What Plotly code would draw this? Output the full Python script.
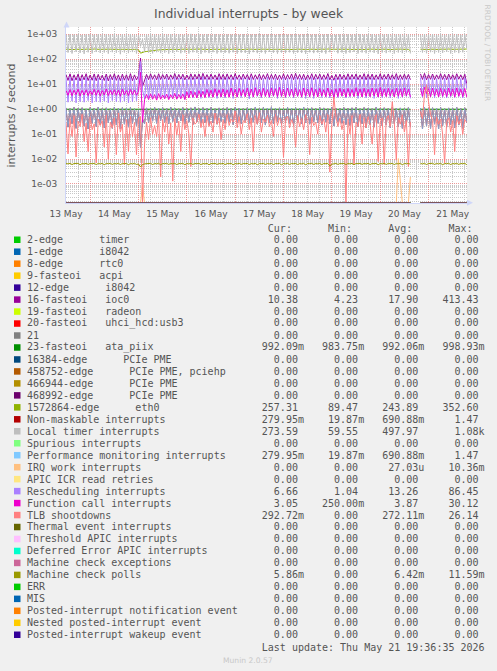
import plotly.graph_objects as go
import pandas as pd

# ---------------- data (hourly samples from 13 May 12:00) ----------------
START = "2026-05-13 12:00"
END = "2026-05-21 19:06"
N_POINTS = 200
DAY_TICKS = ["2026-05-13 12:00", "2026-05-14 12:00", "2026-05-15 12:00", "2026-05-16 12:00",
             "2026-05-17 12:00", "2026-05-18 12:00", "2026-05-19 12:00", "2026-05-20 12:00",
             "2026-05-21 12:00"]
DAY_LABELS = ["13 May", "14 May", "15 May", "16 May", "17 May", "18 May", "19 May", "20 May", "21 May"]
Y_TICKS = [1e-3, 1e-2, 1e-1, 1e0, 1e1, 1e2, 1e3]
Y_LABELS = ["1e-03", "1e-02", "1e-01", "1e+00", "1e+01", "1e+02", "1e+03"]

ioc0 = [
    24.5, 14.2, 26.0, 13.8, 23.8, 14.6, 25.4, 13.5, 24.1, 14.9,
    26.3, 14.0, 23.5, 14.4, 25.8, 13.9, 24.7, 14.7, 22.9, 14.1,
    25.6, 13.6, 24.2, 15.0, 26.1, 14.3, 23.7, 13.8, 25.2, 14.5,
    24.0, 14.2, 26.4, 13.9, 23.6, 14.8, 22.0, 110.0, 8.0, 13.4,
    24.8, 15.2, 25.9, 15.6, 23.9, 15.0, 26.2, 15.4, 24.4, 15.9,
    25.5, 15.1, 23.8, 15.7, 26.6, 15.3, 24.6, 15.8, 25.1, 15.0,
    23.4, 15.5, 26.0, 15.2, 24.9, 15.9, 25.7, 15.1, 27.0, 15.6,
    24.2, 15.3, 25.4, 15.8, 23.6, 15.0, 26.4, 15.5, 24.8, 15.2,
    25.9, 15.7, 24.0, 15.1, 26.8, 15.6, 23.7, 15.3, 25.3, 15.9,
    24.5, 15.0, 26.2, 15.4, 23.9, 15.7, 25.6, 15.2, 24.1, 15.8,
    26.5, 15.3, 24.7, 15.6, 25.2, 15.0, 23.5, 15.5, 26.0, 15.1,
    24.3, 15.9, 25.8, 15.2, 27.2, 15.7, 24.6, 15.4, 25.0, 15.0,
    23.8, 15.6, 26.3, 15.1, 24.9, 15.8, 25.5, 15.3, 24.0, 15.5,
    26.7, 15.0, 22.5, 14.5, 24.8, 15.2, 25.3, 15.6, 23.9, 15.1,
    26.1, 15.4, 24.4, 15.9, 25.7, 15.2, 23.6, 15.7, 26.4, 15.0,
    24.9, 15.5, 25.4, 15.1, 23.8, 15.6, 26.0, 15.3, 24.5, 15.8,
    25.8, 15.2, 24.1, 15.7, 26.5, 15.0, 23.9, 15.4, 25.2, 15.6,
    24.6, 15.1, None, None, None, None, 25.9, 15.5, 27.1, 15.0,
    24.3, 15.7, 25.6, 15.2, 23.7, 15.9, 26.2, 15.4, 24.8, 15.1,
    25.5, 15.6, 24.0, 15.3, 26.3, 15.8, 23.8, 15.2, 25.1, 10.38,
]

ata_piix = [
    0.992, 0.991, 0.993, 0.992, 0.990, 0.992, 0.993, 0.991, 0.992, 0.992,
    0.991, 0.993, 0.992, 0.990, 0.992, 0.993, 0.991, 0.992, 0.992, 0.991,
    0.993, 0.992, 0.990, 0.992, 0.993, 0.991, 0.992, 0.992, 0.991, 0.993,
    0.992, 0.990, 0.992, 0.993, 0.991, 0.992, 0.988, 0.984, 0.990, 0.992,
    0.991, 0.993, 0.992, 0.990, 0.992, 0.993, 0.991, 0.992, 0.992, 0.991,
    0.993, 0.992, 0.990, 0.992, 0.993, 0.991, 0.992, 0.992, 0.991, 0.993,
    0.992, 0.990, 0.992, 0.993, 0.991, 0.992, 0.992, 0.991, 0.993, 0.992,
    0.990, 0.992, 0.993, 0.991, 0.992, 0.992, 0.991, 0.993, 0.992, 0.990,
    0.992, 0.993, 0.991, 0.992, 0.992, 0.991, 0.993, 0.992, 0.990, 0.992,
    0.993, 0.991, 0.992, 0.992, 0.991, 0.993, 0.992, 0.990, 0.992, 0.993,
    0.991, 0.992, 0.992, 0.991, 0.993, 0.992, 0.990, 0.992, 0.993, 0.991,
    0.992, 0.992, 0.991, 0.993, 0.992, 0.990, 0.992, 0.993, 0.991, 0.992,
    0.992, 0.991, 0.993, 0.992, 0.990, 0.992, 0.993, 0.991, 0.992, 0.992,
    0.991, 0.993, 0.992, 0.990, 0.992, 0.993, 0.991, 0.992, 0.992, 0.991,
    0.993, 0.992, 0.990, 0.992, 0.993, 0.991, 0.992, 0.992, 0.991, 0.993,
    0.992, 0.990, 0.992, 0.993, 0.991, 0.992, 0.992, 0.991, 0.993, 0.992,
    0.990, 0.992, 0.993, 0.991, 0.992, 0.992, 0.991, 0.993, 0.992, 0.990,
    0.992, 0.993, None, None, None, None, 0.991, 0.992, 0.992, 0.991,
    0.993, 0.992, 0.990, 0.992, 0.993, 0.991, 0.992, 0.992, 0.991, 0.993,
    0.992, 0.990, 0.992, 0.993, 0.991, 0.992, 0.992, 0.991, 0.993, 0.992,
]

eth0 = [
    252, 248, 255, 250, 246, 253, 249, 256, 251, 247,
    254, 250, 245, 252, 257, 249, 253, 248, 251, 255,
    250, 246, 253, 249, 256, 252, 247, 254, 250, 248,
    255, 251, 246, 253, 249, 245, 238, 175, 190, 200,
    205, 212, 218, 224, 229, 233, 238, 241, 244, 247,
    250, 253, 248, 255, 251, 246, 254, 249, 252, 256,
    248, 253, 250, 245, 252, 257, 249, 254, 251, 247,
    255, 250, 246, 253, 249, 256, 252, 248, 254, 250,
    246, 253, 249, 255, 251, 247, 254, 250, 245, 252,
    257, 249, 253, 248, 251, 255, 250, 246, 253, 249,
    256, 252, 247, 254, 250, 248, 255, 251, 246, 253,
    249, 245, 252, 257, 249, 254, 251, 247, 255, 250,
    246, 253, 249, 256, 252, 248, 254, 250, 245, 252,
    257, 249, 253, 248, 251, 255, 250, 246, 253, 249,
    256, 252, 247, 254, 250, 248, 255, 251, 246, 253,
    249, 256, 252, 247, 254, 250, 248, 255, 251, 246,
    253, 249, 245, 252, 257, 249, 254, 251, 247, 255,
    250, 215, None, None, None, None, 252, 248, 254, 250,
    246, 253, 249, 255, 251, 247, 254, 250, 245, 252,
    257, 249, 253, 248, 251, 255, 250, 246, 253, 257,
]

perf_mon = [
    1.12, 0.19, 1.05, 0.26, 1.18, 0.17, 1.08, 0.29, 1.14, 0.21,
    1.02, 0.16, 1.16, 0.27, 1.09, 0.20, 1.21, 0.24, 1.06, 0.18,
    1.13, 0.28, 1.04, 0.17, 1.19, 0.23, 1.07, 0.16, 1.15, 0.25,
    1.10, 0.19, 1.17, 0.27, 1.03, 0.21, 0.95, 0.028, 0.40, 0.26,
    1.12, 0.29, 1.05, 0.33, 1.18, 0.27, 1.09, 0.35, 1.14, 0.30,
    1.07, 0.26, 1.20, 0.32, 1.11, 0.28, 1.04, 0.34, 1.16, 0.25,
    1.09, 0.30, 1.13, 0.24, 1.22, 0.31, 1.06, 0.27, 1.15, 0.29,
    1.10, 0.23, 1.18, 0.28, 1.04, 0.25, 1.12, 0.32, 1.08, 0.27,
    1.16, 0.30, 1.07, 0.24, 1.19, 0.29, 1.11, 0.26, 1.05, 0.31,
    1.14, 0.27, 1.09, 0.30, 1.21, 0.25, 1.06, 0.28, 1.17, 0.23,
    1.11, 0.29, 1.24, 0.26, 1.08, 0.31, 1.13, 0.24, 1.05, 0.30,
    1.18, 0.27, 1.10, 0.22, 1.15, 0.30, 1.07, 0.26, 1.20, 0.29,
    1.09, 0.25, 1.14, 0.31, 1.06, 0.28, 1.17, 0.23, 1.12, 0.30,
    1.04, 0.26, 1.19, 0.21, 1.10, 0.30, 1.08, 0.27, 1.15, 0.24,
    1.07, 0.22, 1.13, 0.28, 1.18, 0.20, 1.05, 0.26, 1.16, 0.18,
    1.10, 0.24, 1.04, 0.19, 1.20, 0.27, 1.08, 0.21, 1.14, 0.23,
    1.06, 0.18, 1.17, 0.26, 1.09, 0.20, 1.12, 0.17, 1.05, 0.25,
    1.15, 0.19, None, None, None, None, 1.11, 0.16, 1.19, 0.21,
    1.07, 0.17, 1.14, 0.25, 1.09, 0.16, 1.16, 0.22, 1.04, 0.19,
    1.12, 0.24, 1.08, 0.18, 1.18, 0.23, 1.06, 0.17, 1.13, 0.28,
]
nmi = perf_mon  # identical readings (same Cur/Min/Avg/Max in the legend)

local_timer = [
    960, 185, 1010, 170, 975, 200, 990, 180, 945, 165,
    985, 190, 1020, 172, 960, 195, 1000, 178, 970, 186,
    995, 168, 965, 192, 1015, 182, 950, 160, 990, 188,
    975, 176, 1030, 194, 960, 170, 930, 330, 640, 205,
    970, 186, 1005, 172, 985, 192, 960, 176, 1000, 184,
    975, 168, 1025, 180, 965, 196, 995, 174, 950, 186,
    985, 170, 1040, 190, 960, 182, 1000, 164, 975, 186,
    1010, 176, 955, 192, 1020, 170, 985, 186, 945, 180,
    995, 174, 975, 190, 1010, 168, 960, 184, 1025, 180,
    955, 162, 985, 192, 1000, 176, 1080, 186, 960, 170,
    975, 196, 1005, 182, 945, 168, 995, 186, 1015, 176,
    960, 190, 985, 170, 1005, 184, 955, 180, 995, 164,
    1030, 190, 965, 176, 990, 186, 940, 182, 975, 168,
    1015, 192, 930, 230, 960, 174, 995, 186, 975, 170,
    1005, 182, 965, 196, 990, 170, 1025, 186, 955, 174,
    985, 192, 1005, 180, 945, 164, 995, 186, 970, 176,
    1015, 190, 960, 170, 985, 186, 1005, 176, 965, 190,
    995, 170, None, None, None, None, 960, 186, 1010, 174,
    975, 192, 1020, 170, 960, 186, 995, 180, 945, 196,
    1005, 170, 975, 186, 1025, 176, 960, 190, 995, 274,
]

irq_work = [
    0, 0, 0, 0, 0, 0, 0, 0, 0, 0,
    0, 0, 0, 0, 0, 0, 0, 0, 0, 0,
    0, 0, 0, 0, 0, 0, 0, 0, 0, 0,
    0, 0, 0, 0, 0, 0, 0, 0, 0.0009, 0,
    0, 0, 0, 0, 0, 0, 0, 0, 0, 0,
    0, 0, 0, 0, 0, 0, 0, 0, 0, 0,
    0, 0, 0, 0, 0, 0, 0, 0, 0, 0,
    0, 0, 0, 0, 0, 0, 0, 0, 0, 0,
    0, 0, 0, 0, 0, 0, 0, 0, 0, 0,
    0, 0, 0, 0, 0, 0, 0, 0, 0, 0,
    0, 0, 0, 0, 0, 0, 0, 0, 0, 0,
    0, 0, 0, 0, 0, 0, 0, 0, 0, 0,
    0, 0, 0, 0, 0, 0, 0, 0, 0, 0,
    0, 0, 0, 0, 0, 0, 0, 0, 0, 0,
    0, 0, 0, 0, 0, 0, 0, 0, 0, 0,
    0, 0, 0, 0, 0, 0, 0, 0, 0, 0,
    0, 0, 0, 0, 0, 0.0104, 0.0012, 0, 0, 0,
    0, 0.0019, None, None, None, None, 0, 0, 0, 0,
    0, 0, 0, 0, 0, 0, 0, 0, 0, 0,
    0, 0, 0, 0, 0, 0, 0, 0, 0, 0,
]

rescheduling = [
    17.5, 1.9, 18.6, 2.1, 16.8, 1.8, 18.2, 2.0, 17.1, 1.9,
    19.0, 2.2, 16.5, 1.8, 18.4, 2.0, 17.7, 1.9, 16.2, 2.1,
    18.8, 1.8, 17.3, 2.2, 19.1, 2.0, 16.9, 1.9, 18.0, 2.1,
    17.2, 1.8, 18.9, 2.0, 16.6, 2.2, 15.8, 80.0, 6.0, 2.6,
    17.9, 2.8, 18.7, 3.0, 16.9, 2.7, 18.9, 3.1, 17.4, 2.9,
    18.3, 2.7, 16.8, 3.2, 19.2, 2.8, 17.6, 3.0, 18.0, 2.6,
    16.5, 3.1, 18.6, 2.8, 17.8, 3.2, 18.4, 2.7, 19.5, 3.0,
    17.2, 2.9, 18.1, 3.1, 16.7, 2.7, 18.9, 3.0, 17.6, 2.8,
    18.5, 3.2, 17.0, 2.7, 19.2, 3.0, 16.8, 2.9, 18.1, 3.1,
    17.4, 2.6, 18.8, 3.0, 16.9, 3.2, 18.3, 2.8, 17.1, 3.1,
    19.0, 2.9, 17.6, 3.2, 18.0, 2.7, 16.6, 3.0, 18.6, 2.8,
    17.3, 3.1, 18.4, 2.8, 19.6, 3.2, 17.5, 2.9, 17.9, 2.7,
    16.9, 3.0, 18.8, 2.7, 17.8, 3.2, 18.2, 2.9, 17.0, 3.0,
    19.1, 2.8, 16.0, 2.6, 17.7, 2.9, 18.1, 3.2, 16.9, 2.8,
    18.7, 3.0, 17.4, 3.2, 18.4, 2.7, 16.7, 3.1, 18.9, 2.8,
    17.8, 3.1, 18.2, 2.7, 16.9, 3.0, 18.6, 2.9, 17.5, 3.2,
    18.4, 2.8, 17.2, 3.1, 18.9, 2.7, 16.9, 3.0, 18.0, 3.2,
    17.6, 2.7, None, None, None, None, 18.5, 3.0, 19.3, 2.8,
    17.4, 3.1, 18.3, 2.8, 16.8, 3.2, 18.7, 3.0, 17.7, 2.8,
    18.2, 3.1, 17.1, 2.9, 18.8, 3.2, 16.9, 2.8, 17.9, 6.66,
]

function_call = [
    5.6, 3.6, 6.1, 3.5, 5.8, 3.8, 6.3, 3.4, 5.7, 3.7,
    6.0, 3.5, 5.5, 3.8, 6.2, 3.6, 5.9, 3.4, 5.6, 3.7,
    6.4, 3.5, 5.7, 3.8, 6.0, 3.6, 5.8, 3.3, 6.2, 3.7,
    5.6, 3.5, 6.1, 3.8, 5.8, 3.6, 5.0, 30.0, 0.3, 2.4,
    3.9, 2.4, 4.1, 2.5, 3.8, 2.3, 4.2, 2.5, 3.7, 2.6,
    4.0, 2.4, 3.8, 2.6, 4.3, 2.5, 3.9, 2.6, 4.1, 2.4,
    5.0, 2.8, 5.4, 3.0, 4.8, 2.8, 5.6, 3.1, 5.2, 2.9,
    6.2, 3.2, 5.8, 3.0, 6.6, 3.3, 6.0, 3.1, 6.5, 3.2,
    6.0, 3.0, 7.0, 3.3, 6.3, 3.1, 6.8, 3.4, 6.1, 3.2,
    6.9, 3.3, 6.4, 3.1, 7.2, 3.4, 6.2, 3.2, 6.8, 3.3,
    6.1, 3.1, 7.0, 3.4, 6.6, 3.2, 7.4, 3.3, 6.4, 3.1,
    6.9, 3.4, 6.3, 3.2, 6.8, 3.3, 6.1, 3.1, 7.0, 3.4,
    6.5, 3.2, 7.2, 3.3, 6.3, 3.1, 6.8, 3.4, 6.1, 3.2,
    7.0, 3.3, 6.0, 2.9, 6.6, 3.2, 6.9, 3.4, 6.3, 3.1,
    6.8, 3.3, 6.2, 3.2, 7.2, 3.4, 6.5, 3.1, 6.9, 3.3,
    6.3, 3.2, 7.0, 3.4, 6.6, 3.1, 7.3, 3.3, 6.5, 3.2,
    6.8, 3.4, 6.2, 3.1, 6.9, 3.3, 6.5, 3.2, 7.0, 3.4,
    6.3, 3.1, None, None, None, None, 6.8, 3.3, 7.5, 4.2,
    6.6, 3.2, 6.9, 3.4, 6.3, 3.1, 6.8, 3.3, 6.2, 3.2,
    7.0, 3.4, 6.5, 3.1, 7.1, 3.3, 6.3, 3.2, 6.8, 3.05,
]

tlb = [
    0.30, 0.016, 0.42, 0.08, 0.55, 0.012, 0.33, 0.20, 0.62, 0.05,
    0.28, 0.020, 0.48, 0.15, 0.26, 0.007, 0.40, 0.22, 0.35, 0.03,
    0.58, 0.010, 0.30, 0.18, 0.45, 0.015, 0.70, 0.12, 0.25, 0.006,
    0.38, 0.020, 0.52, 0.08, 0.29, 0.015, 0.44, 0.50, 0.0, 0.04,
    0.30, 0.06, 0.45, 0.10, 0.22, 0.08, 0.55, 0.0019, 0.38, 0.12,
    0.50, 0.04, 0.28, 0.0013, 0.42, 0.09, 0.33, 0.02, 0.60, 0.15,
    0.35, 0.10, 0.005, 0.45, 0.25, 0.30, 0.62, 0.18, 0.40, 0.08,
    0.55, 0.20, 0.33, 0.12, 0.70, 0.25, 0.45, 0.06, 0.38, 0.15,
    0.60, 0.22, 0.40, 0.30, 0.85, 0.18, 0.50, 0.10, 0.35, 0.28,
    0.65, 0.15, 0.45, 0.02, 0.55, 0.25, 0.72, 0.12, 0.40, 0.30,
    0.58, 0.20, 0.35, 0.08, 0.62, 0.22, 0.45, 0.30, 0.012, 0.40,
    0.52, 0.18, 0.38, 0.25, 0.03, 0.55, 0.20, 0.42, 0.15, 0.60,
    0.35, 0.015, 0.48, 0.22, 0.30, 0.10, 0.55, 0.25, 0.40, 0.12,
    0.60, 0.003, 0.25, 3.0, 0.50, 0.20, 0.45, 0.15, 0.35, 0.0,
    0.40, 0.10, 0.55, 0.006, 0.30, 0.20, 0.62, 0.04, 0.45, 0.18,
    0.50, 0.25, 0.04, 0.35, 0.60, 0.008, 0.30, 0.45, 0.006, 0.40,
    0.55, 0.20, 2.0, 0.30, 0.009, 0.45, 0.25, 0.60, 0.12, 0.35,
    0.005, 0.30, None, None, None, None, 0.80, 0.40, 4.0, 9.0,
    2.0, 0.60, 0.35, 0.015, 0.50, 0.25, 0.40, 0.10, 0.007, 0.30,
    0.45, 0.12, 0.35, 0.02, 0.55, 0.25, 0.40, 0.10, 0.38, 0.29,
]

mc_polls = [
    0.0066, 0.0064, 0.0067, 0.0060, 0.0066, 0.0065, 0.0067, 0.0059, 0.0066, 0.0064,
    0.0067, 0.0061, 0.0066, 0.0065, 0.0067, 0.0060, 0.0066, 0.0064, 0.0067, 0.0059,
    0.0066, 0.0065, 0.0067, 0.0061, 0.0066, 0.0064, 0.0067, 0.0060, 0.0066, 0.0065,
    0.0067, 0.0059, 0.0066, 0.0064, 0.0067, 0.0061, 0.0063, 0.0048, 0.0060, 0.0064,
    0.0066, 0.0065, 0.0067, 0.0060, 0.0066, 0.0064, 0.0067, 0.0059, 0.0066, 0.0065,
    0.0067, 0.0061, 0.0066, 0.0064, 0.0067, 0.0060, 0.0066, 0.0065, 0.0067, 0.0059,
    0.0066, 0.0064, 0.0067, 0.0061, 0.0066, 0.0065, 0.0067, 0.0060, 0.0066, 0.0064,
    0.0067, 0.0059, 0.0066, 0.0065, 0.0067, 0.0061, 0.0066, 0.0064, 0.0067, 0.0060,
    0.0066, 0.0065, 0.0067, 0.0059, 0.0066, 0.0064, 0.0067, 0.0061, 0.0066, 0.0065,
    0.0067, 0.0060, 0.0066, 0.0064, 0.0067, 0.0059, 0.0066, 0.0065, 0.0067, 0.0061,
    0.0066, 0.0064, 0.0067, 0.0060, 0.0066, 0.0065, 0.0067, 0.0059, 0.0066, 0.0064,
    0.0067, 0.0061, 0.0066, 0.0065, 0.0067, 0.0060, 0.0066, 0.0064, 0.0067, 0.0059,
    0.0066, 0.0065, 0.0067, 0.0061, 0.0066, 0.0064, 0.0067, 0.0060, 0.0066, 0.0065,
    0.0067, 0.0052, 0.0063, 0.0064, 0.0067, 0.0061, 0.0066, 0.0065, 0.0067, 0.0060,
    0.0066, 0.0064, 0.0067, 0.0059, 0.0066, 0.0065, 0.0067, 0.0061, 0.0066, 0.0064,
    0.0067, 0.0060, 0.0066, 0.0065, 0.0067, 0.0059, 0.0066, 0.0064, 0.0067, 0.0061,
    0.0066, 0.0065, 0.0067, 0.0060, 0.0066, 0.0064, 0.0067, 0.0059, 0.0066, 0.0065,
    0.0066, 0.0062, None, None, None, None, 0.0066, 0.0064, 0.0067, 0.0060,
    0.0066, 0.0065, 0.0067, 0.0061, 0.0066, 0.0064, 0.0067, 0.0059, 0.0066, 0.0065,
    0.0067, 0.0060, 0.0066, 0.0064, 0.0067, 0.0061, 0.0066, 0.0065, 0.0067, 0.0059,
]

# series that read 0.00 over the whole week (gap of missing data on 20 May)
zero_series = [0.0] * 172 + [None] * 4 + [0.0] * 24

# ---------------- legend table ----------------
LABELS = ["2-edge      timer", "1-edge      i8042", "8-edge      rtc0", "9-fasteoi   acpi",
          "12-edge      i8042", "16-fasteoi   ioc0", "19-fasteoi   radeon",
          "20-fasteoi   uhci_hcd:usb3", "21", "23-fasteoi   ata_piix",
          "16384-edge      PCIe PME", "458752-edge      PCIe PME, pciehp",
          "466944-edge      PCIe PME", "468992-edge      PCIe PME", "1572864-edge      eth0",
          "Non-maskable interrupts", "Local timer interrupts", "Spurious interrupts",
          "Performance monitoring interrupts", "IRQ work interrupts", "APIC ICR read retries",
          "Rescheduling interrupts", "Function call interrupts", "TLB shootdowns",
          "Thermal event interrupts", "Threshold APIC interrupts",
          "Deferred Error APIC interrupts", "Machine check exceptions", "Machine check polls",
          "ERR", "MIS", "Posted-interrupt notification event", "Nested posted-interrupt event",
          "Posted-interrupt wakeup event"]
COLORS = ["#00CC00", "#0066B3", "#FF8000", "#FFCC00", "#330099", "#990099", "#CCFF00",
          "#FF0000", "#808080", "#008F00", "#00487D", "#B35A00", "#B38F00", "#6B006B",
          "#8FB300", "#B30000", "#BEBEBE", "#80FF80", "#80C9FF", "#FFC080", "#FFE680",
          "#AA80FF", "#EE00CC", "#FF8080", "#666600", "#FFBFFF", "#00FFCC", "#CC6699",
          "#999900", "#00CC00", "#0066B3", "#FF8000", "#FFCC00", "#330099"]
CUR = ["0.00", "0.00", "0.00", "0.00", "0.00", "10.38", "0.00", "0.00", "0.00", "992.09m",
       "0.00", "0.00", "0.00", "0.00", "257.31", "279.95m", "273.59", "0.00", "279.95m",
       "0.00", "0.00", "6.66", "3.05", "292.72m", "0.00", "0.00", "0.00", "0.00", "5.86m",
       "0.00", "0.00", "0.00", "0.00", "0.00"]
MIN = ["0.00", "0.00", "0.00", "0.00", "0.00", "4.23", "0.00", "0.00", "0.00", "983.75m",
       "0.00", "0.00", "0.00", "0.00", "89.47", "19.87m", "59.55", "0.00", "19.87m",
       "0.00", "0.00", "1.04", "250.00m", "0.00", "0.00", "0.00", "0.00", "0.00", "0.00",
       "0.00", "0.00", "0.00", "0.00", "0.00"]
AVG = ["0.00", "0.00", "0.00", "0.00", "0.00", "17.90", "0.00", "0.00", "0.00", "992.06m",
       "0.00", "0.00", "0.00", "0.00", "243.89", "690.88m", "497.97", "0.00", "690.88m",
       "27.03u", "0.00", "13.26", "3.87", "272.11m", "0.00", "0.00", "0.00", "0.00", "6.42m",
       "0.00", "0.00", "0.00", "0.00", "0.00"]
MAX = ["0.00", "0.00", "0.00", "0.00", "0.00", "413.43", "0.00", "0.00", "0.00", "998.93m",
       "0.00", "0.00", "0.00", "0.00", "352.60", "1.47", "1.08k", "0.00", "1.47",
       "10.36m", "0.00", "86.45", "30.12", "26.14", "0.00", "0.00", "0.00", "0.00", "11.59m",
       "0.00", "0.00", "0.00", "0.00", "0.00"]

SERIES = {5: ioc0, 9: ata_piix, 14: eth0, 15: nmi, 16: local_timer, 18: perf_mon,
          19: irq_work, 21: rescheduling, 22: function_call, 23: tlb, 28: mc_polls}
OPACITY = {18: 0.8}

TITLE = "Individual interrupts - by week"
Y_TITLE = "interrupts / second"
LAST_UPDATE = "Last update: Thu May 21 19:36:35 2026"
FOOTER = "Munin 2.0.57"
SIDE_TEXT = "RRDTOOL / TOBI OETIKER"

# ---------------- layout geometry ----------------
W, H = 497, 671
ML, MR, MT, MB = 66, 30, 27, 468
PW, PH = W - ML - MR, H - MT - MB
Y_MIN, Y_MAX = -3.763, 3.293
FLOOR = 10 ** Y_MIN

for name, s in [("ioc0", ioc0), ("ata", ata_piix), ("eth0", eth0), ("perf", perf_mon),
                ("timer", local_timer), ("irq", irq_work), ("resched", rescheduling),
                ("func", function_call), ("tlb", tlb), ("mc", mc_polls)]:
    assert len(s) == N_POINTS, (name, len(s))


def px(x):
    return (x - ML) / PW


def py(y):
    return (H - MB - y) / PH


def clip_floor(values):
    # rrdtool draws 0 (and anything below the scale) on the bottom edge of a log graph
    return [None if v is None else max(v, FLOOR) for v in values]


times = pd.date_range(START, periods=N_POINTS, freq="h")
fig = go.Figure()

for i, (label, color) in enumerate(zip(LABELS, COLORS)):
    vals = SERIES.get(i, zero_series)
    fig.add_trace(go.Scatter(x=times, y=clip_floor(vals), mode="lines", name=label,
                             line=dict(color=color, width=1), showlegend=False,
                             opacity=OPACITY.get(i, 1.0), hoverinfo="skip"))

TEXT = "#555555"
RED_GRID = "rgba(230,120,120,0.75)"
GRAY_GRID = "rgba(190,190,190,0.85)"
minor_y = [m * 10 ** e for e in range(-4, 4) for m in range(2, 10)]

fig.update_layout(
    width=W, height=H,
    margin=dict(l=ML, r=MR, t=MT, b=MB, pad=0),
    paper_bgcolor="#F0F0F0", plot_bgcolor="#FFFFFF",
    font=dict(family="DejaVu Sans", color=TEXT, size=9),
    xaxis=dict(type="date", range=[START, END], tickmode="linear", tick0="2026-05-14 00:00",
               dtick=86400000, showticklabels=False, ticks="",
               showgrid=True, gridcolor=RED_GRID, griddash="1px,1px", gridwidth=1,
               minor=dict(tickmode="linear", tick0="2026-05-14 00:00", dtick=21600000,
                          showgrid=True, gridcolor=GRAY_GRID, griddash="1px,1px", gridwidth=1),
               showline=True, linecolor="#CFD6F8", linewidth=1, zeroline=False),
    xaxis2=dict(type="date", range=[START, END], overlaying="x", anchor="y", side="bottom",
                tickmode="array", tickvals=DAY_TICKS, ticktext=DAY_LABELS,
                showgrid=False, ticks="", ticklabelstandoff=4,
                tickfont=dict(family="DejaVu Sans", size=9, color=TEXT), zeroline=False),
    yaxis=dict(type="log", range=[Y_MIN, Y_MAX], tickmode="array", tickvals=Y_TICKS,
               ticktext=Y_LABELS, ticks="", ticklabelstandoff=6,
               tickfont=dict(family="DejaVu Sans", size=9, color=TEXT),
               showgrid=True, gridcolor=RED_GRID, griddash="1px,1px", gridwidth=1,
               minor=dict(tickmode="array", tickvals=minor_y, showgrid=True,
                          gridcolor=GRAY_GRID, griddash="1px,1px", gridwidth=1),
               showline=True, linecolor="#CFD6F8", linewidth=1, zeroline=False),
)

# empty trace on the label axis so that it renders
fig.add_trace(go.Scatter(x=[START], y=[None], xaxis="x2", yaxis="y", showlegend=False,
                         hoverinfo="skip", mode="lines"))

# axis arrows
fig.add_shape(type="path", xref="paper", yref="paper", layer="above",
              path=f"M {px(63.5)} {py(27.5)} L {px(69.5)} {py(27.5)} L {px(66.5)} {py(21.5)} Z",
              fillcolor="#CFD6F8", line=dict(width=0))
fig.add_shape(type="path", xref="paper", yref="paper", layer="above",
              path=f"M {px(467)} {py(199.7)} L {px(467)} {py(205.7)} L {px(473)} {py(202.7)} Z",
              fillcolor="#CFD6F8", line=dict(width=0))

ann = []
ann.append(dict(text=TITLE, x=px(248.5), y=py(14), xref="paper", yref="paper",
                showarrow=False, xanchor="center", yanchor="middle",
                font=dict(family="DejaVu Sans", size=12.4, color=TEXT)))
ann.append(dict(text=Y_TITLE, x=px(10.5), y=py(115), xref="paper", yref="paper",
                showarrow=False, textangle=-90, xanchor="center", yanchor="middle",
                font=dict(family="DejaVu Sans", size=11, color=TEXT)))
ann.append(dict(text=SIDE_TEXT, x=px(487.5), y=py(53), xref="paper", yref="paper",
                showarrow=False, textangle=90, xanchor="center", yanchor="middle",
                font=dict(family="DejaVu Sans", size=7.5, color="#C8C8C8")))

NB = "\u00a0"
MONO = dict(family="DejaVu Sans Mono", size=10, color=TEXT)
TEXT_X = 26
ROW0 = 239.7
ROW_STEP = 11.97


def col(v):
    num, suf = (v[:-1], v[-1]) if v[-1].isalpha() else (v, " ")
    return num.rjust(6) + suf + "   "


header = " " * 40 + "Cur:      Min:      Avg:      Max:"
ann.append(dict(text=header.replace(" ", NB), x=px(TEXT_X), y=py(228.3), xref="paper",
                yref="paper", showarrow=False, xanchor="left", yanchor="middle",
                borderpad=0, font=MONO))
for i, label in enumerate(LABELS):
    yc = ROW0 + ROW_STEP * i
    row = label.ljust(39) + col(CUR[i]) + col(MIN[i]) + col(AVG[i]) + col(MAX[i])
    ann.append(dict(text=row.rstrip().replace(" ", NB), x=px(TEXT_X), y=py(yc), xref="paper",
                    yref="paper", showarrow=False, xanchor="left", yanchor="middle",
                    borderpad=0, font=MONO))
    fig.add_shape(type="rect", xref="paper", yref="paper", layer="above",
                  x0=px(14), x1=px(20.5), y0=py(yc - 3.2), y1=py(yc + 3.3),
                  fillcolor=COLORS[i], line=dict(width=0))

ann.append(dict(text=(" " * 39 + LAST_UPDATE).replace(" ", NB), x=px(TEXT_X), y=py(647.7),
                xref="paper", yref="paper", showarrow=False, xanchor="left",
                yanchor="middle", borderpad=0, font=MONO))
ann.append(dict(text=FOOTER, x=px(248), y=py(660), xref="paper", yref="paper",
                showarrow=False, xanchor="center", yanchor="middle",
                font=dict(family="DejaVu Sans", size=7.6, color="#C8C8C8")))
fig.update_layout(annotations=ann)

fig.write_html("out.html", config={"displayModeBar": False},
               post_script="document.body.style.margin='0';document.body.style.overflow='hidden';")
